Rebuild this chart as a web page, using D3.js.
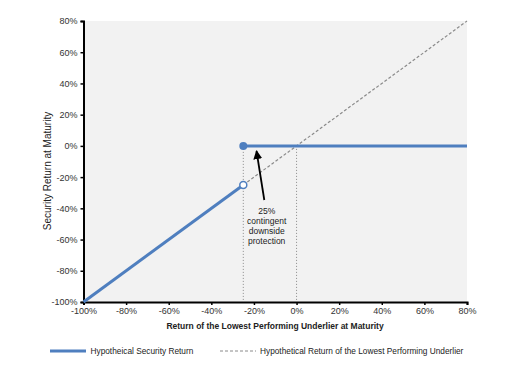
<!DOCTYPE html>
<html><head><meta charset="utf-8">
<script src="https://cdn.jsdelivr.net/npm/d3@7"></script>
<style>body{margin:0;background:#fff}text{font-family:"Liberation Sans",Arial,sans-serif}</style>
</head><body><svg id="c" width="515" height="380"></svg>
<script>
const xTicks = [-100,-80,-60,-40,-20,0,20,40,60,80];
const yTicks = [-100,-80,-60,-40,-20,0,20,40,60,80];
const securityLow = [[-100,-100],[-25,-25]];
const securityHigh = [[-25,0],[80,0]];
const underlier = [[-25,-25],[80,80]];
const barrier = -25;
const annotation = ["25%","contingent","downside","protection"];
const legendLabels = ["Hypotheical Security Return","Hypothetical Return of the Lowest Performing Underlier"];
const blue = "#4f7fbf", grey = "#8a8a8a";

const svg = d3.select("#c");
const x = d3.scaleLinear().domain([-100,80]).range([83.5,467]);
const y = d3.scaleLinear().domain([-100,80]).range([302,21]);

svg.append("rect").attr("x",x(-100)).attr("y",y(80)).attr("width",x(80)-x(-100)).attr("height",y(-100)-y(80)).attr("fill","#f2f2f2");

const fmt = d => d + "%";
const xa = svg.append("g").attr("transform",`translate(0,${y(-100)})`).call(d3.axisBottom(x).tickValues(xTicks).tickFormat(fmt).tickSize(3).tickPadding(3));
const ya = svg.append("g").attr("transform",`translate(${x(-100)},0)`).call(d3.axisLeft(y).tickValues(yTicks).tickFormat(fmt).tickSize(3).tickPadding(3));
[xa,ya].forEach(a=>{a.select(".domain").attr("stroke","#000").attr("stroke-width",2);a.selectAll(".tick line").attr("stroke","#000").attr("stroke-width",1.5);a.selectAll("text").attr("font-size",9).attr("fill","#333").style("font-family","Liberation Sans, Arial, sans-serif");});

const line = d3.line().x(d=>x(d[0])).y(d=>y(d[1]));
// dotted verticals
[barrier,0].forEach(v=>svg.append("line").attr("x1",x(v)).attr("x2",x(v)).attr("y1",y(0)).attr("y2",y(-100)).attr("stroke",grey).attr("stroke-width",1).attr("stroke-dasharray","1,2"));
svg.append("path").attr("d",line(underlier)).attr("fill","none").attr("stroke",grey).attr("stroke-width",1.2).attr("stroke-dasharray","3,2");
svg.append("path").attr("d",line(securityLow)).attr("fill","none").attr("stroke",blue).attr("stroke-width",3);
svg.append("path").attr("d",line(securityHigh)).attr("fill","none").attr("stroke",blue).attr("stroke-width",3);
svg.append("circle").attr("cx",x(securityLow[1][0])).attr("cy",y(securityLow[1][1])).attr("r",3.5).attr("fill","#fff").attr("stroke",blue).attr("stroke-width",1.5);
svg.append("circle").attr("cx",x(securityHigh[0][0])).attr("cy",y(securityHigh[0][1])).attr("r",4).attr("fill",blue);

// arrow
svg.append("defs").append("marker").attr("id","ah").attr("viewBox","0 0 10 10").attr("refX",9).attr("refY",5).attr("markerWidth",5).attr("markerHeight",5).attr("orient","auto").append("path").attr("d","M0,0L10,5L0,10z").attr("fill","#000");
svg.append("line").attr("x1",264.3).attr("y1",200).attr("x2",256.5).attr("y2",151).attr("stroke","#000").attr("stroke-width",1.8).attr("marker-end","url(#ah)");
const at = svg.append("text").attr("text-anchor","middle").attr("font-size",8.5).attr("fill","#222");
annotation.forEach((t,i)=>at.append("tspan").attr("x",266.7).attr("y",213.5+i*10).text(t));

// axis titles
svg.append("text").attr("x",275).attr("y",329).attr("text-anchor","middle").attr("font-size",8.5).attr("font-weight","bold").attr("fill","#222").text("Return of the Lowest Performing Underlier at Maturity");
svg.append("text").attr("transform","translate(51,171) rotate(-90)").attr("text-anchor","middle").attr("font-size",10).attr("fill","#222").text("Security Return at Maturity");

// legend
const ly = 351;
svg.append("line").attr("x1",50).attr("x2",86).attr("y1",ly).attr("y2",ly).attr("stroke",blue).attr("stroke-width",3);
svg.append("text").attr("x",90.5).attr("y",ly+3).attr("font-size",8.3).attr("fill","#222").text(legendLabels[0]);
svg.append("line").attr("x1",220).attr("x2",256).attr("y1",ly).attr("y2",ly).attr("stroke",grey).attr("stroke-width",1).attr("stroke-dasharray","3,2");
svg.append("text").attr("x",260).attr("y",ly+3).attr("font-size",8.3).attr("fill","#222").text(legendLabels[1]);
</script></body></html>
